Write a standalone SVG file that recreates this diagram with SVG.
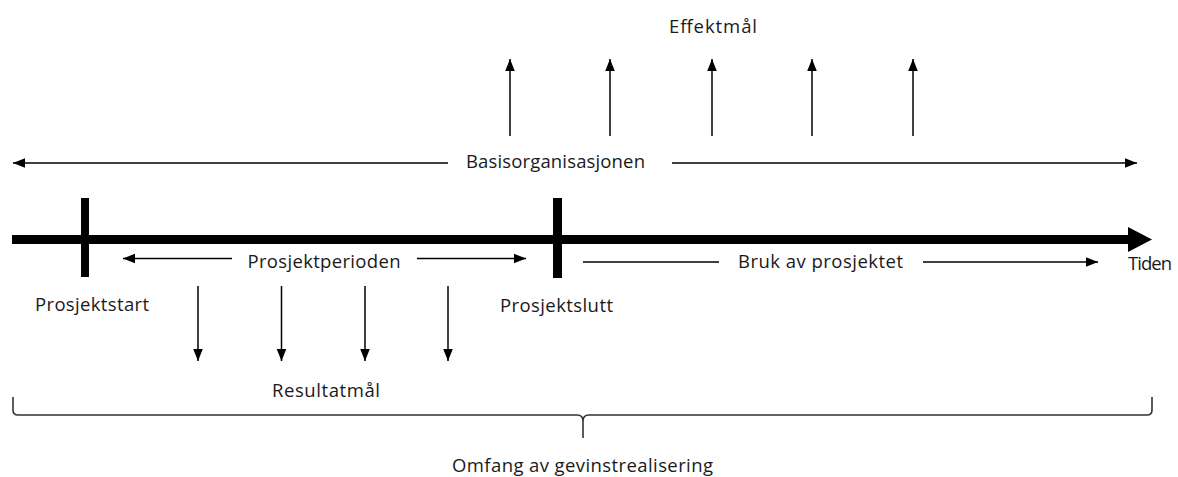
<svg xmlns="http://www.w3.org/2000/svg" width="1178" height="477" viewBox="0 0 1178 477">
<style>
text{font-family:"Open Sans","Liberation Sans",sans-serif;font-size:18.5px;fill:#1a1a1a}
.thin{stroke:#000;stroke-width:1.5;fill:none}
.end{marker-end:url(#ah)}
.brace{stroke:#333;stroke-width:1.6;fill:none}
</style>
<defs>
<marker id="ah" markerUnits="userSpaceOnUse" markerWidth="12" markerHeight="12" viewBox="0 0 10 10" refX="10" refY="5" orient="auto">
<path d="M0,1 L10,5 L0,9 Z" fill="#000"/>
</marker>
</defs>
<rect width="1178" height="477" fill="#fff"/>
<g id="axis">
<rect x="12" y="235" width="1118" height="9" fill="#000"/>
<path d="M1128,227 L1152,239.5 L1128,252 Z" fill="#000"/>
<text x="1128" y="270" textLength="44">Tiden</text>
</g>
<g id="prosjektstart">
<rect x="81" y="198" width="8" height="79" fill="#000"/>
<text x="92" y="311" text-anchor="middle" textLength="114">Prosjektstart</text>
</g>
<g id="prosjektslutt">
<rect x="553" y="198" width="9" height="80" fill="#000"/>
<text x="556.5" y="312" text-anchor="middle" textLength="113">Prosjektslutt</text>
</g>
<g id="basisorganisasjonen">
<text x="555.5" y="168" text-anchor="middle" textLength="179">Basisorganisasjonen</text>
</g>
<g id="prosjektperioden">
<text x="324" y="268" text-anchor="middle" textLength="153">Prosjektperioden</text>
</g>
<g id="bruk">
<text x="820.5" y="268" text-anchor="middle" textLength="165">Bruk av prosjektet</text>
</g>
<g id="effektmaal">
<text x="713" y="33" text-anchor="middle" textLength="88">Effektmål</text>
</g>
<g id="resultatmaal">
<text x="326" y="397" text-anchor="middle" textLength="108">Resultatmål</text>
</g>
<g id="omfang">
<path class="brace" d="M13,397 L13,410 Q13,415 18,415 L577,415 Q583,415 583,421 L583,438 M583,421 Q583,415 589,415 L1147,415 Q1152,415 1152,410 L1152,397"/>
<text x="582.5" y="472" text-anchor="middle" textLength="261">Omfang av gevinstrealisering</text>
</g>
<g id="connectors">
<line class="thin end" x1="448" y1="163" x2="13" y2="163"/>
<line class="thin end" x1="672" y1="163" x2="1137" y2="163"/>
<line class="thin end" x1="232" y1="258.5" x2="123" y2="258.5"/>
<line class="thin end" x1="417" y1="258.5" x2="526" y2="258.5"/>
<line class="thin" x1="583" y1="262" x2="719" y2="262"/>
<line class="thin end" x1="923" y1="262" x2="1098" y2="262"/>
<line class="thin end" x1="510" y1="136" x2="510" y2="59"/>
<line class="thin end" x1="610" y1="136" x2="610" y2="59"/>
<line class="thin end" x1="712" y1="136" x2="712" y2="59"/>
<line class="thin end" x1="812" y1="136" x2="812" y2="59"/>
<line class="thin end" x1="913" y1="136" x2="913" y2="59"/>
<line class="thin end" x1="198" y1="286" x2="198" y2="361"/>
<line class="thin end" x1="281.5" y1="286" x2="281.5" y2="361"/>
<line class="thin end" x1="365" y1="286" x2="365" y2="361"/>
<line class="thin end" x1="448" y1="286" x2="448" y2="361"/>
</g>
</svg>
